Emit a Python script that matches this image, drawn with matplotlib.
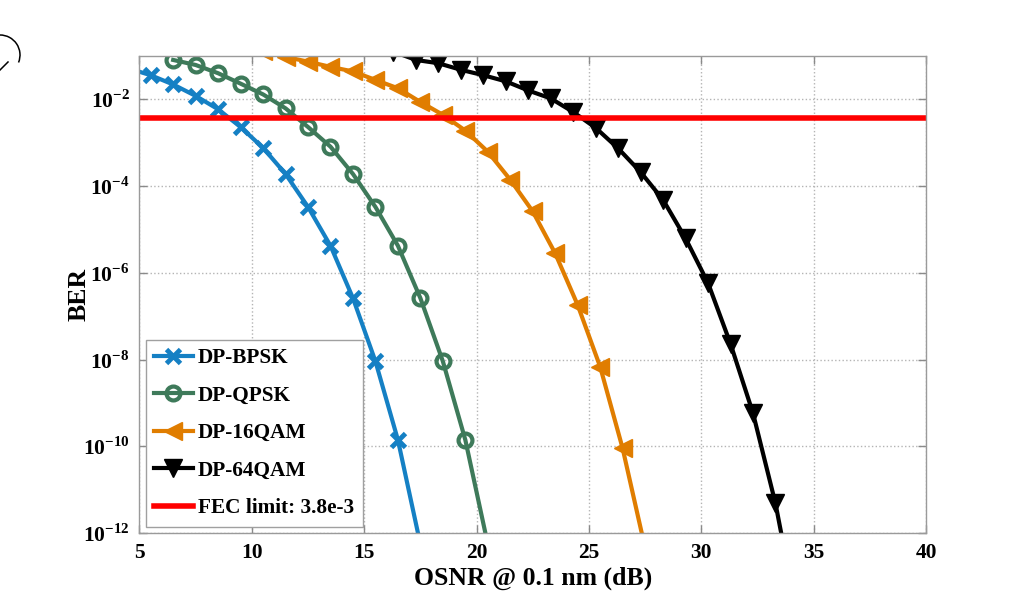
import numpy as np
import matplotlib
matplotlib.use("Agg")
import matplotlib.pyplot as plt
from matplotlib.ticker import FuncFormatter, NullLocator
from matplotlib.patches import Arc
from matplotlib.lines import Line2D
from matplotlib.transforms import IdentityTransform

plt.rcParams['font.family'] = ['Liberation Serif', 'DejaVu Serif']
plt.rcParams['font.weight'] = 'bold'
plt.rcParams['mathtext.fontset'] = 'custom'
plt.rcParams['mathtext.rm'] = 'Liberation Serif:bold'
plt.rcParams['mathtext.bf'] = 'Liberation Serif:bold'

# OSNR (dB) and BER
osnr_bpsk = [4.5, 5.5, 6.5, 7.5, 8.5, 9.5, 10.5, 11.5, 12.5, 13.5, 14.5, 15.5, 16.5, 17.5]
ber_bpsk = [5.2e-2, 3.6e-2, 2.2e-2, 1.2e-2, 5.9e-3, 2.3e-3, 7.6e-4, 1.9e-4, 3.3e-5,
            4.2e-6, 2.6e-7, 9.1e-9, 1.4e-10, 5.5e-13]

osnr_qpsk = [6.5, 7.5, 8.5, 9.5, 10.5, 11.5, 12.5, 13.5, 14.5, 15.5, 16.5, 17.5, 18.5, 19.5, 20.5]
ber_qpsk = [8.1e-2, 6.2e-2, 4.0e-2, 2.3e-2, 1.3e-2, 6.2e-3, 2.3e-3, 8.1e-4, 1.9e-4,
            3.3e-5, 4.2e-6, 2.6e-7, 9.1e-9, 1.4e-10, 5.5e-13]

osnr_16qam = [10.5, 11.5, 12.5, 13.5, 14.5, 15.5, 16.5, 17.5, 18.5, 19.5, 20.5, 21.5,
              22.5, 23.5, 24.5, 25.5, 26.5, 27.5]
ber_16qam = [1.3e-1, 9.5e-2, 7.4e-2, 5.6e-2, 4.4e-2, 2.8e-2, 1.8e-2, 8.7e-3, 4.4e-3,
             1.9e-3, 6.2e-4, 1.4e-4, 2.6e-5, 2.8e-6, 1.8e-7, 6.8e-9, 8.9e-11, 4.5e-13]

osnr_64qam = [16.3, 17.3, 18.3, 19.3, 20.3, 21.3, 22.3, 23.3, 24.3, 25.3, 26.3, 27.3,
              28.3, 29.3, 30.3, 31.3, 32.3, 33.3, 34.3]
ber_64qam = [1.26e-1, 8.1e-2, 6.8e-2, 4.8e-2, 3.6e-2, 2.6e-2, 1.6e-2, 1.05e-2, 5.1e-3,
             2.2e-3, 7.4e-4, 2.1e-4, 4.8e-5, 6.2e-6, 5.8e-7, 2.3e-8, 5.8e-10, 4.8e-12, 1e-14]

fec_limit = 3.8e-3

fig = plt.figure(figsize=(10.27, 5.98), dpi=100)
ax = fig.add_axes([0.1358, 0.1087, 0.7659, 0.7977])

ax.semilogy(osnr_bpsk, ber_bpsk, color='#1580C4', lw=3, marker='x', ms=9.5, mew=3.5,
            label='DP-BPSK')
ax.semilogy(osnr_qpsk, ber_qpsk, color='#3E7A5A', lw=3, marker='o', ms=10, mew=3,
            mfc='none', label='DP-QPSK')
ax.semilogy(osnr_16qam, ber_16qam, color='#E07D00', lw=3, marker='<', ms=12.5,
            label='DP-16QAM')
ax.semilogy(osnr_64qam, ber_64qam, color='black', lw=3, marker='v', ms=12.5,
            label='DP-64QAM')
ax.axhline(fec_limit, color='#FF0000', lw=4, label='FEC limit: 3.8e-3')

ax.set_xlim(5, 40)
ax.set_ylim(1e-12, 1e-1)
ax.set_xticks(np.arange(5, 41, 5))
ax.set_yticks([1e-12, 1e-10, 1e-8, 1e-6, 1e-4, 1e-2])
ax.yaxis.set_minor_locator(NullLocator())
ax.yaxis.set_major_formatter(FuncFormatter(lambda v, p: r'$10^{%d}$' % round(np.log10(v))))

ax.grid(True, which='major', linestyle=':', color='#b4b4b4', lw=1)
ax.tick_params(direction='in', top=True, right=True, length=6, width=1,
               color='#8a8a8a', labelsize=15.5, pad=7)
for s in ax.spines.values():
    s.set_color('#9a9a9a')
    s.set_linewidth(1)

ax.set_xlabel('OSNR @ 0.1 nm (dB)', fontsize=18.5, fontweight='bold', labelpad=3)
ax.set_ylabel('BER', fontsize=18.5, fontweight='bold')
ax.yaxis.set_label_coords(-0.062, 0.5)

leg = ax.legend(loc='lower left', fancybox=False, framealpha=1, edgecolor='#a0a0a0',
                prop={'size': 15.3, 'weight': 'bold'}, handlelength=1.8,
                handletextpad=0.25, labelspacing=0.82, borderaxespad=0.3, borderpad=0.4)
leg.get_frame().set_linewidth(1)

# stray cursor glyph in the top-left corner of the screenshot
fig.add_artist(Arc((0, 543), 40, 40, theta1=-22, theta2=90, color='black', lw=1.1,
                   transform=IdentityTransform()))
fig.add_artist(Line2D([0, 8], [528, 536], color='black', lw=1.1,
                      transform=IdentityTransform()))

fig.savefig('out.png', dpi=100)
